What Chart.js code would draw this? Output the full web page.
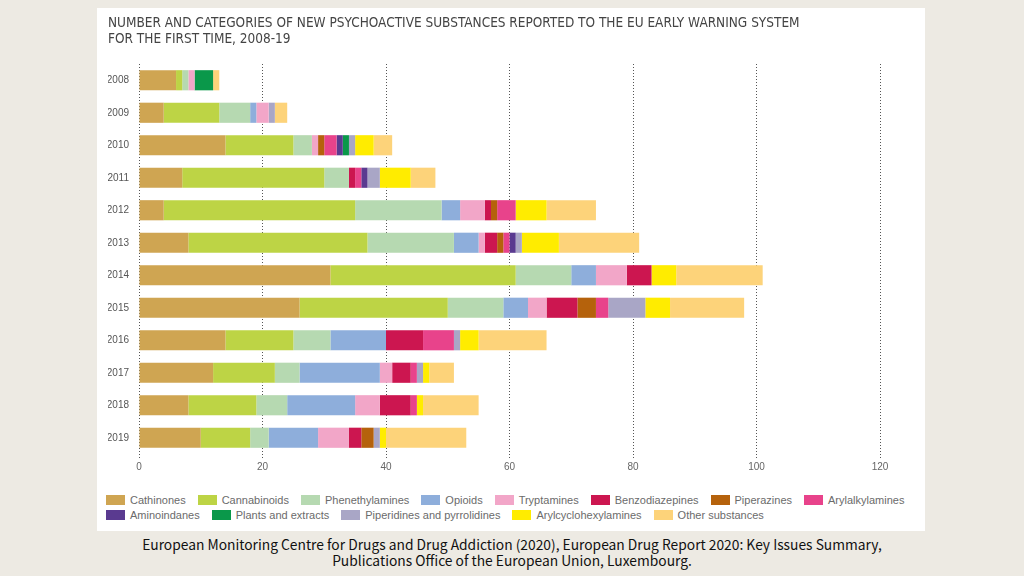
<!DOCTYPE html>
<html>
<head>
<meta charset="utf-8">
<script src="https://cdn.jsdelivr.net/npm/chart.js@4"></script>
<style>
    body { margin: 0; width: 1024px; height: 576px; background: #edeae3; overflow: hidden; }
    #panel { position: absolute; left: 97px; top: 8px; width: 828px; height: 523px; background: #ffffff; }
    #chartBox { position: absolute; left: 0; top: 0; width: 828px; height: 466px; }
    #legend { position: absolute; left: 9px; top: 485px; width: 815px; display: flex; flex-wrap: wrap;
              font-family: "Liberation Sans", Arial, sans-serif; font-size: 11px; color: #6b6b6b; }
    .item { display: flex; align-items: center; height: 14.5px; margin-right: 12px; white-space: nowrap; }
    .box { width: 19px; height: 10px; margin-right: 5px; }
    .brk { flex-basis: 100%; height: 0; }
    #caption { position: absolute; left: 0; top: 536px; width: 1024px; text-align: center;
               font-family: "Noto Sans CJK JP", "Noto Sans", sans-serif; font-size: 13.8px; line-height: 16px; color: #111; }
</style>
</head>
<body>
<div id="panel">
    <div id="chartBox"><canvas id="npsChart"></canvas></div>
    <div id="legend"></div>
</div>
<div id="caption">European Monitoring Centre for Drugs and Drug Addiction (2020), European Drug Report 2020: Key Issues Summary,<br>Publications Office of the European Union, Luxembourg.</div>
<script>
// years on the y axis
let years = ["2008", "2009", "2010", "2011", "2012", "2013", "2014", "2015", "2016", "2017", "2018", "2019"];
let categories = ["Cathinones", "Cannabinoids", "Phenethylamines", "Opioids", "Tryptamines", "Benzodiazepines",
    "Piperazines", "Arylalkylamines", "Aminoindanes", "Plants and extracts", "Piperidines and pyrrolidines",
    "Arylcyclohexylamines", "Other substances"];
let xTicks = [0, 20, 40, 60, 80, 100, 120];

// number of new substances per year, one array per category
let cathinones        = [6, 4, 14, 7, 4, 8, 31, 26, 14, 12, 8, 10];
let cannabinoids      = [1, 9, 11, 23, 31, 29, 30, 24, 11, 10, 11, 8];
let phenethylamines   = [1, 5, 3, 4, 14, 14, 9, 9, 6, 4, 5, 3];
let opioids           = [0, 1, 0, 0, 3, 4, 4, 4, 9, 13, 11, 8];
let tryptamines       = [1, 2, 1, 0, 4, 1, 5, 3, 0, 2, 4, 5];
let benzodiazepines   = [0, 0, 0, 1, 1, 2, 4, 5, 6, 3, 5, 2];
let piperazines       = [0, 0, 1, 0, 1, 1, 0, 3, 0, 0, 0, 2];
let arylalkylamines   = [0, 0, 2, 1, 3, 1, 0, 2, 5, 1, 1, 0];
let aminoindanes      = [0, 0, 1, 1, 0, 1, 0, 0, 0, 0, 0, 0];
let plants            = [3, 0, 1, 0, 0, 0, 0, 0, 0, 0, 0, 0];
let piperidines       = [0, 1, 1, 2, 0, 1, 0, 6, 1, 1, 0, 1];
let arylcyclohexyl    = [0, 0, 3, 5, 5, 6, 4, 4, 3, 1, 1, 1];
let otherSubstances   = [1, 2, 3, 4, 8, 13, 14, 12, 11, 4, 9, 13];

let seriesValues = [cathinones, cannabinoids, phenethylamines, opioids, tryptamines, benzodiazepines,
    piperazines, arylalkylamines, aminoindanes, plants, piperidines, arylcyclohexyl, otherSubstances];

let colours = ['#cfa552', '#bdd445', '#b6d9b1', '#8eaedb', '#f2a6c8', '#cc1650', '#b5620c',
    '#e8438b', '#5a3a90', '#0a984a', '#a9a6c6', '#ffec00', '#fdd37a'];

let narrow = '"Liberation Sans Narrow", "DejaVu Sans Condensed", sans-serif';

let datasets = categories.map((name, i) => ({
    label: name,
    data: seriesValues[i],
    backgroundColor: colours[i],
    borderWidth: 0,
    barPercentage: 0.62,
    categoryPercentage: 1
}));

let ctx = document.getElementById('npsChart');
let myChart = new Chart(ctx, {
    type: 'bar',
    data: { labels: years, datasets: datasets },
    options: {
        indexAxis: 'y',
        responsive: true,
        maintainAspectRatio: false,
        animation: false,
        layout: { padding: { left: 11, right: 45, top: 0, bottom: 0 } },
        plugins: {
            legend: { display: false },
            tooltip: { enabled: false },
            title: {
                display: true,
                align: 'start',
                text: ['NUMBER AND CATEGORIES OF NEW PSYCHOACTIVE SUBSTANCES REPORTED TO THE EU EARLY WARNING SYSTEM',
                       'FOR THE FIRST TIME, 2008-19'],
                color: '#444444',
                font: { family: narrow, size: 13.5, weight: 'normal', lineHeight: '16px' },
                padding: { top: 7, bottom: 17 }
            }
        },
        scales: {
            x: {
                stacked: true,
                min: 0,
                max: 120,
                afterBuildTicks: axis => { axis.ticks = xTicks.map(v => ({ value: v })); },
                afterFit: axis => { axis.height = 20; },
                border: { display: false, dash: [1, 2] },
                grid: {
                    color: '#555555',
                    lineWidth: 1,
                    tickLength: 4,
                    tickBorderDash: [1, 2],
                    tickColor: '#555555'
                },
                ticks: {
                    padding: 3,
                    color: '#666666',
                    font: { family: '"Liberation Sans", Arial, sans-serif', size: 10 }
                }
            },
            y: {
                stacked: true,
                afterFit: axis => { axis.width = 31; },
                border: { display: false },
                grid: { display: false, drawTicks: false },
                ticks: {
                    padding: 10,
                    color: '#555555',
                    font: { family: '"Liberation Sans", Arial, sans-serif', size: 10 }
                }
            }
        }
    }
});

// legend in two rows, built from the chart's datasets
let legend = document.getElementById('legend');
myChart.data.datasets.forEach((ds, i) => {
    let item = document.createElement('div');
    item.className = 'item';
    item.innerHTML = '<span class="box" style="background:' + ds.backgroundColor + '"></span>' + ds.label;
    legend.appendChild(item);
    if (i === 7) {
        let brk = document.createElement('div');
        brk.className = 'brk';
        legend.appendChild(brk);
    }
});
</script>
</body>
</html>
